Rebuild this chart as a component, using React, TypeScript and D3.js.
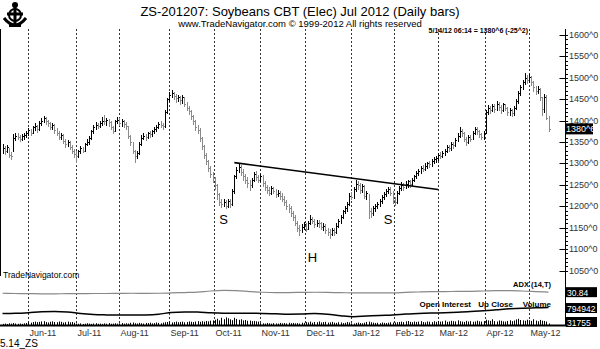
import React from 'react';
import * as d3 from 'd3';

// ---- Data (daily bars, ZS Jul 2012, May-13-2011 .. May-14-2012) ----
const closes = [
  1335,1328,1338,1320,1318,1360,1365,1362,1358,1363,
  1366,1370,1378,1372,1384,1388,1380,1395,1400,1405,
  1398,1394,1385,1390,1378,1372,1362,1366,1352,1345,
  1350,1338,1330,1322,1318,1328,1335,1330,1345,1350,
  1360,1375,1385,1390,1388,1395,1400,1398,1402,1396,
  1385,1376,1398,1402,1395,1400,1392,1388,1365,1350,
  1330,1318,1325,1345,1360,1365,1362,1370,1368,1375,
  1380,1385,1392,1390,1388,1420,1450,1460,1465,1458,
  1452,1455,1448,1455,1440,1430,1422,1410,1398,1385,
  1378,1360,1340,1320,1305,1290,1275,1265,1250,1228,
  1210,1205,1210,1200,1212,1205,1235,1270,1285,1292,
  1280,1270,1262,1255,1250,1262,1275,1268,1262,1270,
  1255,1245,1238,1232,1242,1236,1228,1232,1225,1218,
  1210,1200,1195,1185,1175,1162,1150,1145,1152,1158,
  1148,1160,1170,1165,1158,1162,1160,1152,1155,1145,
  1140,1135,1145,1140,1155,1165,1175,1188,1195,1205,
  1225,1222,1240,1252,1250,1238,1248,1225,1230,1190,
  1185,1195,1200,1205,1212,1222,1228,1235,1240,1232,
  1215,1210,1232,1242,1250,1245,1252,1258,1252,1262,
  1270,1278,1282,1290,1288,1295,1300,1298,1305,1310,
  1312,1320,1318,1325,1330,1338,1335,1345,1342,1355,
  1365,1375,1370,1358,1350,1362,1358,1372,1380,1375,
  1368,1362,1372,1420,1430,1425,1435,1428,1440,1432,
  1425,1438,1430,1420,1425,1418,1430,1445,1465,1478,
  1490,1500,1495,1502,1490,1478,1470,1475,1455,1428,
  1455,1406,1380.75,
];

const highs = [
  1345,1340,1344,1336,1326,1368,1372,1370,1366,1368,
  1372,1376,1382,1380,1388,1394,1390,1398,1406,1410,
  1408,1402,1396,1394,1392,1382,1376,1372,1368,1356,
  1354,1352,1342,1334,1330,1332,1340,1338,1348,1356,
  1364,1378,1390,1396,1394,1398,1408,1414,1406,1404,
  1398,1388,1402,1408,1406,1404,1402,1396,1388,1366,
  1350,1332,1330,1350,1366,1370,1368,1374,1376,1378,
  1384,1390,1396,1398,1394,1424,1454,1466,1472,1468,
  1462,1460,1458,1460,1456,1444,1434,1426,1414,1402,
  1390,1382,1362,1344,1324,1308,1294,1280,1268,1252,
  1232,1216,1218,1214,1218,1216,1240,1274,1292,1302,
  1296,1286,1276,1268,1262,1266,1280,1282,1274,1276,
  1272,1258,1250,1244,1248,1246,1240,1238,1236,1230,
  1224,1214,1206,1200,1190,1180,1166,1156,1158,1164,
  1162,1166,1180,1176,1170,1168,1168,1164,1160,1158,
  1150,1146,1150,1150,1160,1170,1180,1192,1200,1210,
  1230,1234,1246,1262,1258,1254,1252,1250,1236,1228,
  1196,1200,1206,1210,1216,1226,1234,1240,1246,1244,
  1236,1222,1236,1248,1256,1254,1258,1262,1262,1266,
  1274,1282,1288,1294,1296,1300,1304,1306,1310,1314,
  1318,1324,1326,1330,1334,1342,1344,1350,1350,1360,
  1370,1384,1380,1374,1362,1366,1366,1376,1386,1384,
  1378,1372,1376,1426,1436,1434,1440,1438,1446,1444,
  1436,1442,1440,1432,1430,1428,1434,1450,1470,1484,
  1496,1511,1506,1508,1504,1492,1482,1480,1476,1456,
  1462,1460,1410,
];

const lows = [
  1325,1322,1326,1314,1310,1330,1355,1356,1352,1354,
  1358,1362,1366,1366,1370,1378,1374,1378,1390,1396,
  1392,1388,1380,1380,1372,1366,1358,1356,1348,1338,
  1340,1334,1324,1316,1304,1314,1324,1326,1328,1342,
  1346,1358,1372,1380,1382,1384,1390,1392,1390,1388,
  1380,1370,1376,1394,1390,1388,1386,1380,1360,1344,
  1324,1304,1312,1322,1344,1356,1354,1360,1362,1364,
  1370,1376,1382,1384,1380,1386,1418,1446,1455,1450,
  1444,1446,1440,1442,1434,1424,1416,1404,1392,1378,
  1370,1352,1334,1312,1298,1282,1268,1256,1240,1218,
  1202,1198,1200,1196,1198,1198,1204,1232,1266,1280,
  1274,1262,1254,1246,1238,1246,1258,1262,1256,1258,
  1248,1238,1230,1226,1228,1230,1222,1224,1218,1212,
  1204,1194,1186,1178,1168,1156,1142,1134,1140,1146,
  1142,1146,1158,1160,1152,1154,1152,1146,1144,1138,
  1132,1127,1132,1134,1138,1152,1162,1172,1184,1190,
  1202,1216,1220,1236,1240,1232,1234,1220,1218,1173,
  1176,1180,1188,1196,1200,1208,1218,1224,1230,1226,
  1208,1202,1208,1228,1238,1238,1242,1246,1246,1250,
  1258,1266,1272,1278,1282,1284,1290,1292,1294,1300,
  1304,1308,1312,1314,1320,1326,1328,1332,1336,1340,
  1352,1362,1364,1352,1344,1348,1352,1356,1368,1368,
  1362,1356,1358,1372,1416,1418,1422,1420,1426,1426,
  1418,1422,1424,1414,1414,1410,1414,1428,1442,1460,
  1474,1486,1488,1490,1484,1470,1462,1464,1448,1414,
  1420,1404,1376,
];

// volume in thousands of contracts
const volumes = [
  25,30,22,35,28,40,32,26,30,24,36,42,
  55,48,62,70,58,66,74,80,60,52,68,75,64,58,72,66,50,60,70,56,62,48,
  30,26,34,22,28,36,30,24,32,38,26,30,22,34,28,40,26,30,36,28,
  34,40,28,36,30,46,52,38,32,44,36,30,42,38,48,34,40,52,44,36,50,58,62,
  66,54,60,72,58,64,70,56,62,74,68,60,72,80,66,78,70,84,76,90,96,
  110,130,96,150,120,160,140,118,100,150,126,108,120,96,104,88,92,80,84,76,70,
  40,34,30,42,36,28,38,32,30,44,36,40,34,46,38,42,36,40,30,48,44,
  60,54,70,48,62,58,74,52,60,66,50,56,64,48,44,58,52,40,46,62,54,
  34,30,44,52,40,36,48,64,70,56,50,42,46,38,52,44,40,48,56,50,
  52,58,64,70,60,76,82,66,58,72,64,70,80,62,56,74,68,60,78,66,
  84,70,76,92,66,72,88,80,74,96,78,70,64,86,72,80,68,74,90,76,70,82,
  110,96,86,120,80,72,94,88,76,70,84,98,80,92,116,130,104,96,88,110,
  100,86,120,92,78,106,90,84,72,31.755,
];

// ADX(14) and open interest sampled every 6th bar
const sampleIdx = [
  0,6,12,18,24,30,36,42,48,54,60,66,72,78,84,90,96,102,108,114,120,126,
  132,138,144,150,156,162,168,174,180,186,192,198,204,210,216,222,228,234,240,246,252,
];
const adxValues = [
  27,26,25.5,25,25,25.5,25.5,26,26,26.5,27,26.5,27,28,29.5,31,35,37,36,33,30.5,29.5,
  29.5,30,30.5,30,29,28.5,28,28,28.5,30,31.5,32.5,33,33.5,34,35,36,36,35,33,30.84,
];
const oiValues = [
  700,705,715,728,732,726,700,685,680,678,678,680,690,718,726,724,712,706,705,704,703,698,
  690,692,700,690,668,652,662,672,680,692,702,708,712,720,732,745,760,775,785,790,794.942,
];

const monthLabels = ['Jun-11','Jul-11','Aug-11','Sep-11','Oct-11','Nov-11','Dec-11','Jan-12','Feb-12','Mar-12','Apr-12','May-12'];
const monthStartIdx = [12,34,54,77,98,119,140,161,181,201,223,243];
const priceTicks = [1050,1100,1150,1200,1250,1300,1350,1400,1450,1500,1550,1600];
const minorTicks = d3.range(1050, 1601, 10);
const lowerLegend = ['Open Interest', 'Up Close', 'Volume'];

// head & shoulders annotations
const neckline = [{ i: 107, p: 1302 }, { i: 201, p: 1239 }];
const hsLabels = [
  { text: 'S', i: 102, p: 1158 },
  { text: 'H', i: 143, p: 1070 },
  { text: 'S', i: 178, p: 1158 },
];

const FONT = "'Liberation Sans', Arial, Helvetica, sans-serif";

function fmt8(v: number) {
  const s = v < 0 ? '-' : '';
  const a = Math.abs(v);
  const w = Math.floor(a + 1e-9);
  const e = Math.round((a - w) * 8);
  return `${s}${w}^${e}`;
}

export default function App() {
  const n = closes.length;
  const x = d3.scaleLinear().domain([0, n - 1]).range([2.5, 548.5]);
  const y = d3.scaleLinear().domain([1050, 1600]).range([270.5, 35]);
  const yAdx = d3.scaleLinear().domain([10, 60]).range([298, 284]);
  const yOi = d3.scaleLinear().domain([600, 850]).range([320, 304]);
  const yVol = d3.scaleLinear().domain([0, 250]).range([325, 313]);

  const px = (i: number) => Math.round(x(i)) + 0.5;

  const adxLine = d3.line<number>()
    .x((_, k) => x(sampleIdx[k]))
    .y((d) => yAdx(d))
    .curve(d3.curveMonotoneX)(adxValues) || '';
  const oiLine = d3.line<number>()
    .x((_, k) => x(sampleIdx[k]))
    .y((d) => yOi(d))
    .curve(d3.curveMonotoneX)(oiValues) || '';

  const last = closes[n - 1];
  const prev = closes[n - 2];
  const change = last - prev;
  const lastAdx = adxValues[adxValues.length - 1];
  const lastOi = oiValues[oiValues.length - 1];
  const lastVol = volumes[volumes.length - 1];

  const axisX = 565.5;
  const legendEnds = [471, 513, 551];

  return (
    <svg width={600} height={349} style={{ position: 'absolute', left: 0, top: 0, background: '#fff', whiteSpace: 'pre' }}
      fontFamily={FONT}>
      <rect x={0} y={0} width={600} height={349} fill="#fff" />

      {/* logo */}
      <g fill="#000" stroke="#000">
        <circle cx={15} cy={5} r={3} stroke="none" />
        <rect x={13.5} y={7} width={3} height={18} stroke="none" />
        <circle cx={15} cy={15} r={6} fill="none" strokeWidth={2} />
        <rect x={7} y={12.5} width={16} height={3} stroke="none" />
        <path d="M4,18 Q15,32 26,18" fill="none" strokeWidth={3} />
        <rect x={9} y={24} width={12} height={3} stroke="none" />
      </g>

      {/* titles */}
      <text x={300} y={16} textAnchor="middle" fontSize={13} fill="#000">
        {'ZS-201207:  Soybeans CBT (Elec) Jul 2012  (Daily bars)'}
      </text>
      <text x={300} y={27} textAnchor="middle" fontSize={9.5} fill="#000">
        www.TradeNavigator.com © 1999-2012 All rights reserved
      </text>
      <text x={528} y={33} textAnchor="end" fontSize={7} fontWeight="bold" fill="#000">
        {`5/14/12 06:14 = ${fmt8(last)} (${fmt8(change)})`}
      </text>

      {/* month gridlines */}
      {monthStartIdx.map((mi, k) => {
        const gx = Math.round(x(mi) - 0.5) + 0.5;
        return (
          <g key={k}>
            <line x1={gx} x2={gx} y1={29} y2={325} stroke="#333" strokeWidth={1} strokeDasharray="2 2" />
            <text x={gx + 1} y={336} fontSize={9} fill="#333">{monthLabels[k]}</text>
          </g>
        );
      })}

      {/* left border of price panel */}
      <line x1={0.5} x2={0.5} y1={29} y2={276} stroke="#000" strokeWidth={1} />

      {/* right axis */}
      <line x1={axisX} x2={axisX} y1={29} y2={326} stroke="#000" strokeWidth={1} />
      {minorTicks.map((t) => (
        <line key={'m' + t} x1={axisX} x2={axisX + 2.5} y1={Math.round(y(t)) + 0.5} y2={Math.round(y(t)) + 0.5} stroke="#000" />
      ))}
      {priceTicks.map((t) => (
        <g key={'t' + t}>
          <line x1={axisX - 6} x2={axisX} y1={Math.round(y(t)) + 0.5} y2={Math.round(y(t)) + 0.5} stroke="#000" />
          <text x={569} y={y(t) + 3} fontSize={9} fill="#333">{`${t}^0`}</text>
        </g>
      ))}

      {/* price bars */}
      {closes.map((c, i) => {
        const up = i === 0 || c >= closes[i - 1];
        const col = up ? '#000' : '#8a8a8a';
        const bx = px(i);
        const cy = Math.round(y(c)) + 0.5;
        return (
          <g key={'b' + i} stroke={col} strokeWidth={1}>
            <line x1={bx} x2={bx} y1={Math.round(y(highs[i]))} y2={Math.round(y(lows[i])) + 1} />
            <line x1={bx} x2={bx + 1.5} y1={cy} y2={cy} />
          </g>
        );
      })}

      {/* neckline */}
      <line x1={x(neckline[0].i)} y1={y(neckline[0].p)} x2={x(neckline[1].i)} y2={y(neckline[1].p)}
        stroke="#000" strokeWidth={1.6} />
      {hsLabels.map((l, k) => (
        <text key={'hs' + k} x={x(l.i)} y={y(l.p)} textAnchor="middle" fontSize={13} fill="#000">{l.text}</text>
      ))}

      {/* current price box */}
      <rect x={565} y={y(last) - 5.5} width={28} height={11} fill="#000" />
      <text x={566} y={y(last) + 3.5} fontSize={9} fill="#fff">{fmt8(last)}</text>

      <text x={3} y={278} fontSize={8.5} fill="#000">TradeNavigator.com</text>

      {/* lower panel: ADX, open interest, volume */}
      <path d={adxLine} fill="none" stroke="#888" strokeWidth={1.2} />
      <path d={oiLine} fill="none" stroke="#000" strokeWidth={1.5} />
      {volumes.map((v, i) => (
        <line key={'v' + i} x1={px(i)} x2={px(i)} y1={325} y2={yVol(v)} stroke="#000" strokeWidth={1} />
      ))}
      <line x1={0} x2={566} y1={325.5} y2={325.5} stroke="#000" strokeWidth={2} />

      <text x={551} y={287} textAnchor="end" fontSize={7.5} fontWeight="bold" fill="#000">ADX (14,T)</text>
      {lowerLegend.map((t, k) => (
        <text key={'lg' + k} x={legendEnds[k]} y={306.5} textAnchor="end" fontSize={8} fontWeight="bold" fill="#000">{t}</text>
      ))}

      <rect x={566} y={yAdx(lastAdx) - 5} width={31} height={10} fill="#000" />
      <text x={567} y={yAdx(lastAdx) + 3.5} fontSize={8.5} fill="#fff">{lastAdx.toFixed(2)}</text>
      <rect x={566} y={yOi(lastOi) - 4.5} width={31} height={10} fill="#000" />
      <text x={567} y={yOi(lastOi) + 4} fontSize={8.5} fill="#fff">{Math.round(lastOi * 1000)}</text>
      <rect x={566} y={Math.min(yVol(lastVol), 322) - 5} width={31} height={10} fill="#000" />
      <text x={567} y={Math.min(yVol(lastVol), 322) + 3.5} fontSize={8.5} fill="#fff">{Math.round(lastVol * 1000)}</text>

      <text x={0} y={347} fontSize={10} fill="#000">5.14_ZS</text>
    </svg>
  );
}
